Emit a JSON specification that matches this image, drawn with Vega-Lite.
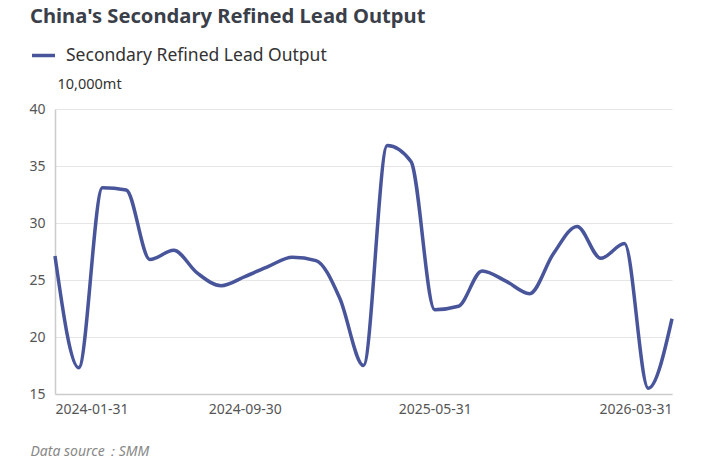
{
  "$schema": "https://vega.github.io/schema/vega-lite/v6.json",
  "width": 617,
  "height": 285,
  "autosize": {"type": "none"},
  "padding": {"left": 55, "top": 109, "right": 38, "bottom": 75},
  "background": "#ffffff",
  "title": {
    "text": "China's Secondary Refined Lead Output",
    "anchor": "start",
    "frame": "group",
    "dx": -25,
    "fontSize": 20.2,
    "font": "Noto Sans",
    "fontWeight": "bold",
    "color": "#3a3f4a",
    "offset": 15
  },
  "data": {
    "values": [
      {"date": "2024-01-31", "value": 27.1},
      {"date": "2024-02-29", "value": 17.3},
      {"date": "2024-03-31", "value": 33.1},
      {"date": "2024-04-30", "value": 32.9},
      {"date": "2024-05-31", "value": 26.8},
      {"date": "2024-06-30", "value": 27.6},
      {"date": "2024-07-31", "value": 25.6},
      {"date": "2024-08-31", "value": 24.5},
      {"date": "2024-09-30", "value": 25.3},
      {"date": "2024-10-31", "value": 26.2},
      {"date": "2024-11-30", "value": 27.0},
      {"date": "2024-12-31", "value": 26.7},
      {"date": "2025-01-31", "value": 23.4},
      {"date": "2025-02-28", "value": 17.5},
      {"date": "2025-03-31", "value": 36.8},
      {"date": "2025-04-30", "value": 35.4},
      {"date": "2025-05-31", "value": 22.4},
      {"date": "2025-06-30", "value": 22.7},
      {"date": "2025-07-31", "value": 25.8},
      {"date": "2025-08-31", "value": 24.9},
      {"date": "2025-09-30", "value": 23.8},
      {"date": "2025-10-31", "value": 27.3},
      {"date": "2025-11-30", "value": 29.7},
      {"date": "2025-12-31", "value": 26.9},
      {"date": "2026-01-31", "value": 28.2},
      {"date": "2026-02-28", "value": 15.5},
      {"date": "2026-03-31", "value": 21.6}
    ]
  },
  "mark": {"type": "line", "interpolate": "monotone", "strokeWidth": 3.5},
  "encoding": {
    "x": {
      "field": "date",
      "type": "ordinal",
      "scale": {"type": "point", "padding": 0},
      "axis": {
        "values": ["2024-01-31", "2024-09-30", "2025-05-31", "2026-03-31"],
        "labelAngle": 0,
        "labelAlign": {"expr": "datum.value == '2024-01-31' ? 'left' : (datum.value == '2026-03-31' ? 'right' : 'center')"},
        "labelFontSize": 14,
        "labelFont": "Noto Sans",
        "labelColor": "#555555",
        "labelPadding": 8,
        "labelOverlap": false,
        "labelBound": false,
        "ticks": false,
        "domainColor": "#cccccc",
        "domainWidth": 1.5,
        "grid": false,
        "title": "Data source：SMM",
        "titleX": -25,
        "titleY": 61,
        "titleAlign": "left",
        "titleBaseline": "alphabetic",
        "titleFont": "Noto Sans",
        "titleFontSize": 14,
        "titleFontStyle": "italic",
        "titleFontWeight": "normal",
        "titleColor": "#888888"
      }
    },
    "y": {
      "field": "value",
      "type": "quantitative",
      "scale": {"domain": [15, 40], "nice": false, "zero": false},
      "axis": {
        "values": [15, 20, 25, 30, 35, 40],
        "labelFontSize": 14,
        "labelFont": "Noto Sans",
        "labelColor": "#555555",
        "labelPadding": 10,
        "ticks": false,
        "domain": true,
        "domainColor": "#cccccc",
        "domainWidth": 1.5,
        "gridColor": "#e6e6e6",
        "gridWidth": 1.2,
        "title": "10,000mt",
        "titleAngle": 0,
        "titleX": 2,
        "titleY": -21,
        "titleAlign": "left",
        "titleBaseline": "alphabetic",
        "titleFont": "Noto Sans",
        "titleFontSize": 14.5,
        "titleFontWeight": "normal",
        "titleColor": "#333333"
      }
    },
    "color": {
      "datum": "Secondary Refined Lead Output",
      "type": "nominal",
      "scale": {"range": ["#49559a"]},
      "legend": {
        "title": null,
        "orient": "none",
        "legendX": -25,
        "legendY": -67,
        "symbolType": "stroke",
        "symbolSize": 529,
        "symbolStrokeWidth": 3.5,
        "labelFontSize": 17.5,
        "labelFont": "Noto Sans",
        "labelColor": "#333333",
        "labelOffset": 9,
        "labelLimit": 0
      }
    }
  },
  "config": {"view": {"stroke": null}}
}
